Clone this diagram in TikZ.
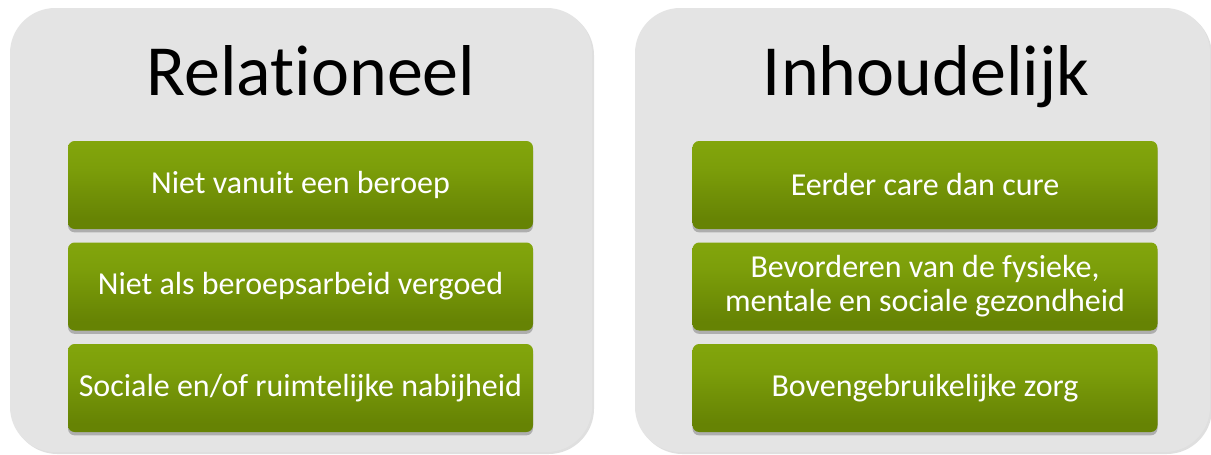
\documentclass[tikz,border=0pt]{standalone}
\usepackage{fontspec}
\setmainfont{Carlito}[Ligatures=NoCommon]
\usetikzlibrary{shadows}
\definecolor{panelgray}{HTML}{E4E4E4}
\definecolor{gbot}{HTML}{668304}
\definecolor{gmid}{HTML}{7C9E0A}
\definecolor{gtop}{HTML}{88AC0E}
\definecolor{glight}{HTML}{B4D646}
\pgfdeclareverticalshading{greenbox}{100bp}{color(0bp)=(gbot); color(30bp)=(gbot); color(60bp)=(gmid); color(88bp)=(gtop); color(93bp)=(glight); color(100bp)=(glight)}
\tikzset{
  panel/.style={fill=panelgray, rounded corners=34pt, draw=none,
    drop shadow={shadow xshift=1.5pt, shadow yshift=-1.5pt, opacity=0.25, fill=gray}},
  title/.style={font=\fontsize{54}{60}\selectfont, text=black, anchor=base, inner sep=0pt},
  gbox/.style={shading=greenbox, rounded corners=5pt, minimum width=348.75pt, minimum height=66pt,
    text=white, align=center, inner sep=0pt, font=\fontsize{24}{25.5}\selectfont,
    drop shadow={shadow xshift=0pt, shadow yshift=-2.5pt, opacity=0.35, fill=black!70}}
}
\begin{document}
\begin{tikzpicture}[x=0.75pt,y=-0.75pt]
\useasboundingbox (0,0) rectangle (1211,454);
\fill[white] (0,0) rectangle (1211,454);
\path[panel] (10,8) rectangle (592,452);
\path[panel] (635,8) rectangle (1210,452);
\node[title] (t1) at (311,95) {Relationeel};
\node[title] (t2) at (926,95) {Inhoudelijk};
\node[gbox] (a1) at (300.5,185) {Niet vanuit een beroep};
\node[gbox] (a2) at (300.5,286.5) {Niet als beroepsarbeid vergoed};
\node[gbox] (a3) at (300.5,388) {Sociale en/of ruimtelijke nabijheid};
\node[gbox] (b1) at (925,185) {Eerder care dan cure};
\node[gbox] (b2) at (925,286.5) {Bevorderen van de fysieke,\\mentale en sociale gezondheid};
\node[gbox] (b3) at (925,388) {Bovengebruikelijke zorg};
\end{tikzpicture}
\end{document}
